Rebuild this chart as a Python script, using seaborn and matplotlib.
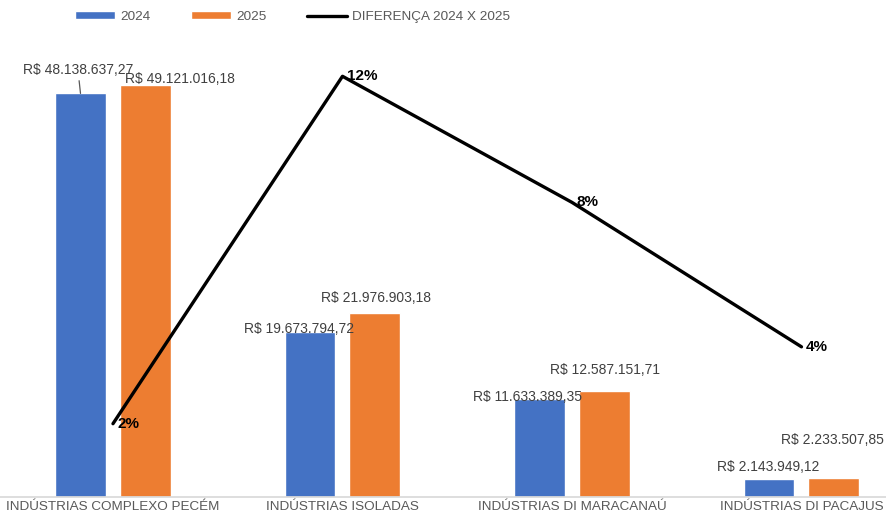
import numpy as np
import pandas as pd
import matplotlib
matplotlib.use("Agg")
import matplotlib.pyplot as plt
from matplotlib.patches import Patch
from matplotlib.lines import Line2D
import seaborn as sns

categories = ["INDÚSTRIAS COMPLEXO PECÉM", "INDÚSTRIAS ISOLADAS",
              "INDÚSTRIAS DI MARACANAÚ", "INDÚSTRIAS DI PACAJUS"]
values_2024 = [48138637.27, 19673794.72, 11633389.35, 2143949.12]
values_2025 = [49121016.18, 21976903.18, 12587151.71, 2233507.85]
diff_pct = [2.04, 11.71, 8.20, 4.18]
diff_labels = ["2%", "12%", "8%", "4%"]
series = ["2024", "2025"]

def brl(v):
    s = f"{v:,.2f}".replace(",", "X").replace(".", ",").replace("X", ".")
    return "R$ " + s

sns.set_theme(style="white")
plt.rcParams["font.family"] = ["Liberation Sans", "DejaVu Sans"]

BLUE = "#4472C4"
ORANGE = "#ED7D31"
GRAY = "#595959"

df = pd.DataFrame({
    "cat": categories * 2,
    "val": values_2024 + values_2025,
    "ano": [series[0]] * 4 + [series[1]] * 4,
})

fig = plt.figure(figsize=(8.87, 5.19), dpi=100)
ax = fig.add_axes([-0.002, 22 / 519, 918 / 887, 503 / 519])
sns.barplot(data=df, x="cat", y="val", hue="ano", palette=[BLUE, ORANGE],
            width=0.566, gap=0.215, ax=ax, legend=False, saturation=1)
ax.set_xlim(-0.5, 3.5)
ax.set_ylim(0, 60e6)
ax.set_xlabel("")
ax.set_ylabel("")
ax.set_yticks([])
for s in ["top", "left", "right"]:
    ax.spines[s].set_visible(False)
ax.spines["bottom"].set_color("#D9D9D9")
ax.tick_params(axis="x", length=0, pad=3, labelsize=9.7, labelcolor=GRAY)

# bar labels (offsets in px: dx, dy above bar top)
offs_2024 = [(-2.5, 23), (-11, 3), (-12.5, 2), (-1, 12)]
offs_2025 = [(34.5, 6), (1, 15), (0.5, 21), (-1.5, 38)]
px = 72 / 100
for i, cnt in enumerate(ax.containers):
    vals = values_2024 if i == 0 else values_2025
    offs = offs_2024 if i == 0 else offs_2025
    for j, bar in enumerate(cnt):
        xc = bar.get_x() + bar.get_width() / 2
        dx, dy = offs[j]
        kw = {}
        if i == 0 and j == 0:
            kw = dict(arrowprops=dict(arrowstyle="-", color=GRAY, lw=0.9,
                                      shrinkA=0, shrinkB=0))
        ax.annotate(brl(vals[j]), xy=(xc, bar.get_height()),
                    xytext=(dx * px, dy * px), textcoords="offset points",
                    ha="center", va="center", fontsize=10.0, color="#404040", **kw)

ax2 = ax.twinx()
sns.lineplot(x=np.arange(len(categories)), y=diff_pct, ax=ax2, color="black",
             linewidth=2.4, legend=False)
ax2.set_ylim(0, 14)
ax2.set_yticks([])
for s in ["top", "left", "right", "bottom"]:
    ax2.spines[s].set_visible(False)
ax2.set_xlim(-0.5, 3.5)
for j, (v, lab) in enumerate(zip(diff_pct, diff_labels)):
    ax2.annotate(lab, xy=(j, v), xytext=(3, 0), textcoords="offset points",
                 ha="left", va="center", fontsize=11, fontweight="bold",
                 color="black")

handles = [Patch(facecolor=BLUE, label="2024"),
           Patch(facecolor=ORANGE, label="2025"),
           Line2D([], [], color="black", lw=2.4, label="DIFERENÇA 2024 X 2025")]
leg = fig.legend(handles=handles, loc="center", bbox_to_anchor=(292.5 / 887, 1 - 17 / 519),
                 ncol=3, frameon=False, fontsize=9.7, handlelength=2.97,
                 handleheight=0.5, columnspacing=3.0, handletextpad=0.37)
for t in leg.get_texts():
    t.set_color(GRAY)

fig.savefig("out.png", dpi=100)
